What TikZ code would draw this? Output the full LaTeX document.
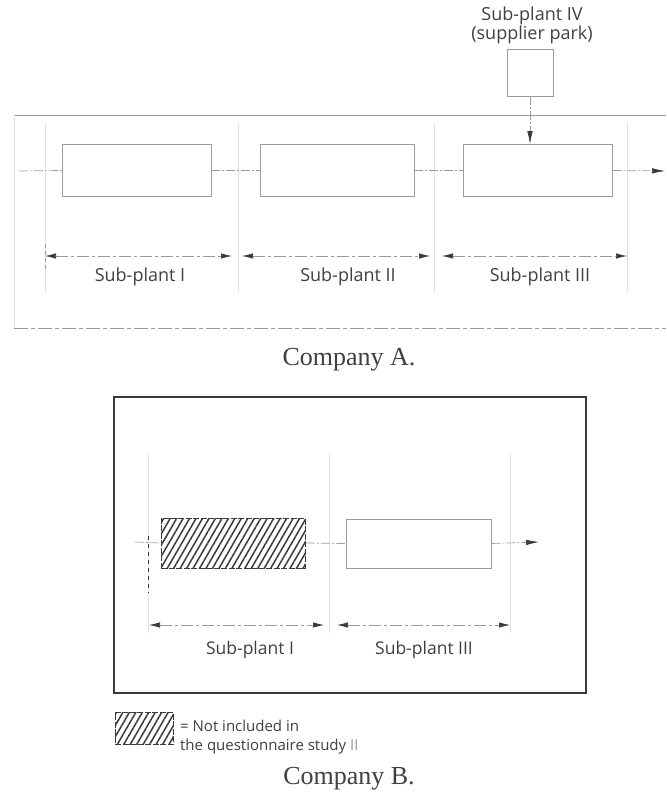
\documentclass[tikz,border=0pt]{standalone}
\usepackage{fontspec}
\setmainfont{Liberation Serif}
\newfontfamily\lblfont{Open Sans}
\usetikzlibrary{arrows.meta,patterns.meta}
\definecolor{ink}{HTML}{3A3A3A}
\definecolor{faded}{HTML}{9C9C9C}
\definecolor{ghost}{HTML}{E2E2E2}
\definecolor{txt}{HTML}{404040}
\tikzset{
  plantbox/.style={draw=faded, line width=0.7pt, inner sep=0pt, minimum height=52pt},
  hatchbox/.style={draw=ink, line width=1pt, dash pattern=on 6pt off 1.5pt, inner sep=0pt,
    pattern={Lines[angle=60,distance=5.6pt,line width=1.5pt]}, pattern color=ink},
  flow/.style={draw=faded, line width=0.7pt, dash pattern=on 9pt off 2pt on 2pt off 2pt},
  tipA/.style={-{Latex[length=13pt,width=5.5pt,color=ink]}},
  dimline/.style={draw=faded, line width=0.7pt, dash pattern=on 12pt off 3pt on 3pt off 3pt,
    {Latex[length=11pt,width=5.5pt,color=ink]}-{Latex[length=11pt,width=5.5pt,color=ink]}},
  guide/.style={draw=ghost, line width=0.8pt},
  plantlbl/.style={font=\lblfont\fontsize{18}{18}\selectfont, text=txt, inner sep=0pt},
  caption/.style={font=\fontsize{26}{28}\selectfont, text=txt, inner sep=0pt},
}
\begin{document}
\begin{tikzpicture}[x=1pt,y=-1pt]
\useasboundingbox (0,0) rectangle (666,802);

% ---------- Company A ----------
\draw[draw=faded, line width=0.9pt] (14,115) -- (666,115);
\draw[guide] (14,115) -- (14,328);
\draw[draw=faded, line width=0.8pt, dash pattern=on 14pt off 3pt on 4pt off 3pt] (14,328) -- (666,328);

\foreach \gx in {45,238,434,627} \draw[guide] (\gx,123) -- (\gx,292);
\draw[draw=faded, line width=0.6pt, dash pattern=on 4pt off 3pt] (45,244) -- (45,272);

\node[plantlbl, align=center, font=\lblfont\fontsize{18}{15.5}\selectfont] (t4) at (532,25) {Sub-plant IV\\(supplier park)};
\node[plantbox, minimum width=46pt, minimum height=47pt] (b4) at (530,72.5) {};

\node[plantbox, minimum width=149pt] (b1) at (136.5,170.5) {};
\node[plantbox, minimum width=154pt] (b2) at (337,170.5) {};
\node[plantbox, minimum width=149pt] (b3) at (537.5,170.5) {};

\coordinate (inA) at (19,171);
\coordinate (outA) at (665,171);
\draw[flow] (inA) -- (b1.west);
\draw[flow] (b1.east) -- (b2.west);
\draw[flow] (b2.east) -- (b3.west);
\draw[flow, tipA] (b3.east) -- (outA);
\draw[flow, tipA] (b4.south) -- (b4.south |- b3.north);

\coordinate (a0) at (45,256);  \coordinate (a1) at (232,256);
\coordinate (a2) at (242,256); \coordinate (a3) at (430,256);
\coordinate (a4) at (442,256); \coordinate (a5) at (627,256);
\draw[dimline] (a0) -- (a1);
\draw[dimline] (a2) -- (a3);
\draw[dimline] (a4) -- (a5);

\node[plantlbl] (l1) at (140,277) {Sub-plant I};
\node[plantlbl] (l2) at (348,277) {Sub-plant II};
\node[plantlbl] (l3) at (540,277) {Sub-plant III};

\node[caption] (capA) at (349,360) {Company A.};

% ---------- Company B ----------
\node[draw=ink, line width=1.1pt, inner sep=0pt, minimum width=472pt, minimum height=296pt] (fb) at (350,545) {};

\foreach \gx in {148,329,510} \draw[guide] (\gx,453) -- (\gx,633);

\node[hatchbox, minimum width=144pt, minimum height=50pt] (h1) at (233,543) {};
\node[plantbox, minimum width=145pt, minimum height=49pt] (w3) at (418.5,543.5) {};

\coordinate (inB) at (135,542);
\coordinate (outB) at (539,542);
\draw[flow] (inB) -- (h1.west);
\draw[flow] (h1.east) -- (w3.west);
\draw[flow, tipA] (w3.east) -- (outB);
\coordinate (vt) at (148,536);
\coordinate (vb) at (148,593);
\draw[draw=ink, line width=0.7pt, dash pattern=on 4pt off 4pt] (vt) -- (vb);

\coordinate (c0) at (149,625); \coordinate (c1) at (324,625);
\coordinate (c2) at (337,625); \coordinate (c3) at (510,625);
\draw[dimline] (c0) -- (c1);
\draw[dimline] (c2) -- (c3);

\node[plantlbl, font=\lblfont\fontsize{17.5}{18}\selectfont] (m1) at (250,650) {Sub-plant I};
\node[plantlbl, font=\lblfont\fontsize{17.5}{18}\selectfont] (m3) at (424,650) {Sub-plant III};

% legend
\node[hatchbox, minimum width=58pt, minimum height=32pt] (lg) at (144,728) {};
\node[anchor=west, align=left, inner sep=0pt, text=txt,
      font=\lblfont\fontsize{15}{19.5}\selectfont] (lgt) at (180,737)
  {= Not included in\\the questionnaire study \textcolor{faded}{II}};

\node[caption] (capB) at (349,779) {Company B.};
\end{tikzpicture}
\end{document}
